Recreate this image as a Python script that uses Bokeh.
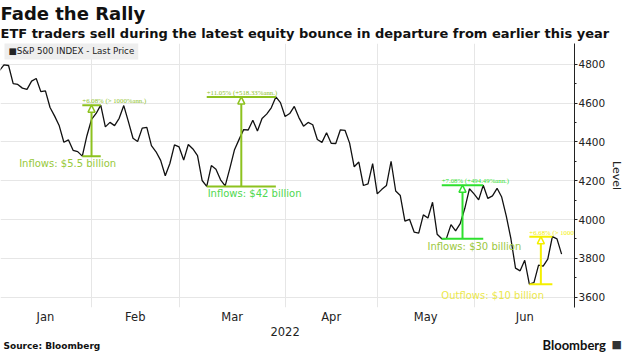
import numpy as np
import pandas as pd
from bokeh.plotting import figure
from bokeh.layouts import column
from bokeh.models import (Range1d, FixedTicker, Label, Arrow, NormalHead, Title,
                          ColumnDataSource, LinearAxis)
from bokeh.embed import file_html
from bokeh.resources import INLINE

# ---------------- data ----------------
holidays = ["2022-01-17", "2022-02-21", "2022-04-15", "2022-05-30", "2022-06-20"]
trade_dates = [d for d in pd.bdate_range("2021-12-31", "2022-06-28")
               if d.strftime("%Y-%m-%d") not in holidays]

closes = [
    4766.18,
    # Jan
    4796.56, 4793.54, 4700.58, 4696.05, 4677.03, 4670.29, 4713.07, 4726.35, 4659.03, 4662.85,
    4577.11, 4532.76, 4482.73, 4397.94, 4410.13, 4356.45, 4349.93, 4326.51, 4431.85, 4515.55,
    # Feb
    4546.54, 4589.38, 4477.44, 4500.53, 4483.87, 4521.54, 4587.18, 4504.08, 4418.64, 4401.67,
    4471.07, 4475.01, 4380.26, 4348.87, 4304.76, 4225.50, 4288.70, 4384.65, 4373.94,
    # Mar
    4306.26, 4386.54, 4363.49, 4328.87, 4201.09, 4170.70, 4277.88, 4259.52, 4204.31, 4173.11,
    4262.45, 4357.86, 4411.67, 4463.12, 4461.18, 4511.61, 4456.24, 4520.16, 4543.06, 4575.52,
    4631.60, 4602.45, 4530.41,
    # Apr
    4545.86, 4582.64, 4525.12, 4481.15, 4500.21, 4488.28, 4412.53, 4397.45, 4446.59, 4392.59,
    4391.69, 4462.21, 4459.45, 4393.66, 4271.78, 4296.12, 4175.20, 4183.96, 4287.50, 4131.93,
    # May
    4155.38, 4175.48, 4300.17, 4146.87, 4123.34, 3991.24, 4001.05, 3935.18, 3930.08, 4023.89,
    4008.01, 4088.85, 3923.68, 3900.79, 3901.36, 3973.75, 3941.48, 3978.73, 4057.84, 4158.24,
    4132.15,
    # Jun
    4101.23, 4176.82, 4108.54, 4121.43, 4160.68, 4115.77, 4017.82, 3900.86, 3749.63, 3735.48,
    3789.99, 3666.77, 3674.84, 3764.79, 3759.89, 3795.73, 3911.74, 3900.11, 3821.55,
]

month_labels = ["Jan", "Feb", "Mar", "Apr", "May", "Jun"]
y_ticks = [3600, 3800, 4000, 4200, 4400, 4600, 4800]
y_minor = [3700, 3900, 4100, 4300, 4500, 4700]

event_low_dates = ["2022-01-27", "2022-03-08", "2022-05-19", "2022-06-16"]
event_high_dates = ["2022-02-02", "2022-03-29", "2022-06-02", "2022-06-24"]
event_gain_text = ["+6.08% (> 1000%ann.)", "+11.05% (+518.33%ann.)",
                   "+7.08% (+494.49%ann.)", "+6.68% (> 1000%ann.)"]
event_flow_text = ["Inflows: $5.5 billion", "Inflows: $42 billion",
                   "Inflows: $30 billion", "Outflows: $10 billion"]

title_text = "Fade the Rally"
subtitle_text = "ETF traders sell during the latest equity bounce in departure from earlier this year"
legend_text = "\u25A0S&P 500 INDEX - Last Price"
year_text = "2022"
source_text = "Source: Bloomberg"
brand_text = "Bloomberg"
brand_icon = "\u25A0"

# ---------------- styles / layout ----------------
event_line_colors = ["#8dc21f", "#8dc21f", "#2ee02e", "#f4ef00"]
event_text_colors = ["#97c93a", "#4fd84f", "#9cc83e", "#ece84c"]
event_label_x = [3.3, 44.2, 91.9, 94.9]       # left edge of flow label (x index)
event_label_gap = [2, 2, 2, 6]                  # px below the low line

FONT = "DejaVu Sans"
W = 626
TOP_H = 43
TOP_TITLE_H = 22
TOP_SUB_H = 20
FRAME_H = 267
AXIS_H = 16
MAIN_H = FRAME_H + AXIS_H
BOT_H = 352 - TOP_H - MAIN_H
FRAME_W = 579
RIGHT_B = W - FRAME_W

def blank_fig(h, top=0, bottom=0, right_axis=False):
    f = figure(width=W, height=h, output_backend="svg", toolbar_location=None,
               x_range=Range1d(0, FRAME_W), y_range=Range1d(0, h - bottom - top),
               x_axis_location=None,
               y_axis_location="right" if right_axis else None,
               min_border_left=0, min_border_right=RIGHT_B,
               min_border_top=top, min_border_bottom=bottom,
               outline_line_color=None,
               background_fill_color="white", border_fill_color="white")
    f.grid.visible = False
    return f

def text_axis(ax, tick, text, font, size, style, standoff, color):
    ax.ticker = FixedTicker(ticks=[tick])
    ax.major_label_overrides = {tick: text}
    ax.axis_line_color = None
    ax.major_tick_line_color = None
    ax.minor_tick_line_color = None
    ax.major_tick_out = 0
    ax.major_tick_in = 0
    ax.minor_tick_out = 0
    ax.minor_tick_in = 0
    ax.major_label_standoff = standoff
    ax.major_label_text_font = font
    ax.major_label_text_font_style = style
    ax.major_label_text_font_size = size
    ax.major_label_text_color = color

# ---------------- derived ----------------
date_str = [d.strftime("%Y-%m-%d") for d in trade_dates]
x = np.arange(len(closes)) - 1            # Dec 31 -> -1, Jan 3 -> 0
src = ColumnDataSource(dict(x=x, y=closes))

months = [d.month for d in trade_dates]
month_end_x = [int(x[max(i for i, m in enumerate(months) if m == mm)]) for mm in range(1, 6)]
x_start, x_end = -0.75, 123.8
bounds = [int(x[0])] + month_end_x + [x_end + 0.2]
month_centers = [(bounds[i] + bounds[i + 1]) / 2 for i in range(6)]

# ---------------- main chart ----------------
p = figure(width=W, height=MAIN_H, output_backend="svg", toolbar_location=None,
           x_range=Range1d(x_start, x_end), y_range=Range1d(3546.5, 4907),
           y_axis_location="right",
           min_border_left=0, min_border_right=RIGHT_B, min_border_top=0,
           min_border_bottom=AXIS_H,
           outline_line_color=None, background_fill_color="white",
           border_fill_color="white")

p.xgrid.ticker = FixedTicker(ticks=month_end_x)
p.xgrid.grid_line_color = "#e6e6e6"
p.ygrid.grid_line_color = "#e6e6e6"

p.xaxis.ticker = FixedTicker(ticks=month_centers)
p.xaxis.major_label_overrides = {c: m for c, m in zip(month_centers, month_labels)}
p.xaxis.axis_line_color = None
p.xaxis.major_tick_line_color = None
p.xaxis.minor_tick_line_color = None
p.xaxis.major_tick_out = 0
p.xaxis.major_tick_in = 0
p.xaxis.minor_tick_out = 0
p.xaxis.minor_tick_in = 0
p.xaxis.axis_label_standoff = 0
p.xaxis.major_label_standoff = 2
p.xaxis.major_label_text_font = FONT
p.xaxis.major_label_text_font_size = "11.5px"
p.xaxis.major_label_text_color = "#222222"

p.yaxis.ticker = FixedTicker(ticks=y_ticks, minor_ticks=y_minor)
p.yaxis.axis_line_color = "#222222"
p.yaxis.major_tick_line_color = "#222222"
p.yaxis.minor_tick_line_color = "#222222"
p.yaxis.major_tick_in = 0
p.yaxis.major_tick_out = 3
p.yaxis.minor_tick_in = 0
p.yaxis.minor_tick_out = 2
p.yaxis.major_label_standoff = 1
p.yaxis.major_label_text_font = FONT
p.yaxis.major_label_text_font_size = "10.5px"
p.yaxis.major_label_text_color = "#222222"
p.yaxis.axis_label = "Level"
p.yaxis.axis_label_standoff = 2
p.yaxis.axis_label_text_font = FONT
p.yaxis.axis_label_text_font_style = "normal"
p.yaxis.axis_label_text_font_size = "11px"
p.yaxis.axis_label_text_color = "#222222"

p.line("x", "y", source=src, line_color="#111111", line_width=1.3)

idx = {d: i for i, d in enumerate(date_str)}
lo_x = [float(x[idx[d]]) for d in event_low_dates]
hi_x = [float(x[idx[d]]) for d in event_high_dates]
lo_y = [closes[idx[d]] for d in event_low_dates]
hi_y = [closes[idx[d]] for d in event_high_dates]
mid_x = [(a + b) / 2 for a, b in zip(lo_x, hi_x)]

ev = ColumnDataSource(dict(lo_x=lo_x, hi_x=hi_x, lo_y=lo_y, hi_y=hi_y,
                           lc=event_line_colors, tc=event_text_colors,
                           gain=event_gain_text))
p.segment(x0="lo_x", x1="hi_x", y0="lo_y", y1="lo_y", source=ev,
          line_color="lc", line_width=2)
p.segment(x0="lo_x", x1="hi_x", y0="hi_y", y1="hi_y", source=ev,
          line_color="lc", line_width=2)
p.text(x="lo_x", y="hi_y", text="gain", source=ev, text_color="lc",
       text_font=FONT, text_font_size="6.8px", text_baseline="bottom",
       y_offset=-1)

for i in range(4):
    c = event_line_colors[i]
    p.add_layout(Arrow(end=NormalHead(size=7, fill_color="white", line_color=c,
                                      line_width=1.5),
                       x_start=mid_x[i], y_start=lo_y[i], x_end=mid_x[i], y_end=hi_y[i],
                       line_color=c, line_width=2))
    p.add_layout(Label(x=event_label_x[i], y=lo_y[i], y_offset=-event_label_gap[i],
                       text=event_flow_text[i], text_color=event_text_colors[i],
                       text_font=FONT, text_font_size="10px", text_baseline="top"))

p.add_layout(Label(x=4, y=FRAME_H - 10, x_units="screen", y_units="screen",
                   text=legend_text, text_font=FONT,
                   text_font_size="8.7px", text_color="#222222", text_baseline="middle",
                   background_fill_color="#eeeeee", padding=4))

# ---------------- header ----------------
top = blank_fig(TOP_H, top=TOP_TITLE_H, bottom=TOP_SUB_H)
top.add_layout(Title(text=title_text, align="left", offset=0, standoff=0,
                     text_font=FONT, text_font_style="bold", text_font_size="18px",
                     text_color="#111111"), "above")
top.add_layout(Title(text=subtitle_text, align="left", offset=0, standoff=0,
                     text_font=FONT, text_font_style="bold", text_font_size="13px",
                     text_color="#111111"), "below")

# ---------------- footer ----------------
bot = blank_fig(BOT_H, right_axis=True)
year_px = (month_end_x[2] - x_start) / (x_end - x_start) * FRAME_W
bot.add_layout(Label(x=year_px, y=352 - 331, text=year_text,
                     text_font=FONT, text_font_size="11.5px", text_color="#222222",
                     anchor="center"))
bot.add_layout(Label(x=3, y=352 - 345, text=source_text, text_font=FONT,
                     text_font_style="bold", text_font_size="9px",
                     text_color="#111111", text_baseline="middle"))
brand_y = 352 - 344
text_axis(bot.yaxis[0], brand_y, brand_text, "Lato", "13px", "bold", -32, "#111111")
icon_axis = LinearAxis()
text_axis(icon_axis, brand_y, brand_icon, FONT, "11px", "normal", 3, "#333333")
bot.add_layout(icon_axis, "right")

layout = column(top, p, bot, spacing=0)
open("out.html", "w").write(file_html(layout, INLINE))
